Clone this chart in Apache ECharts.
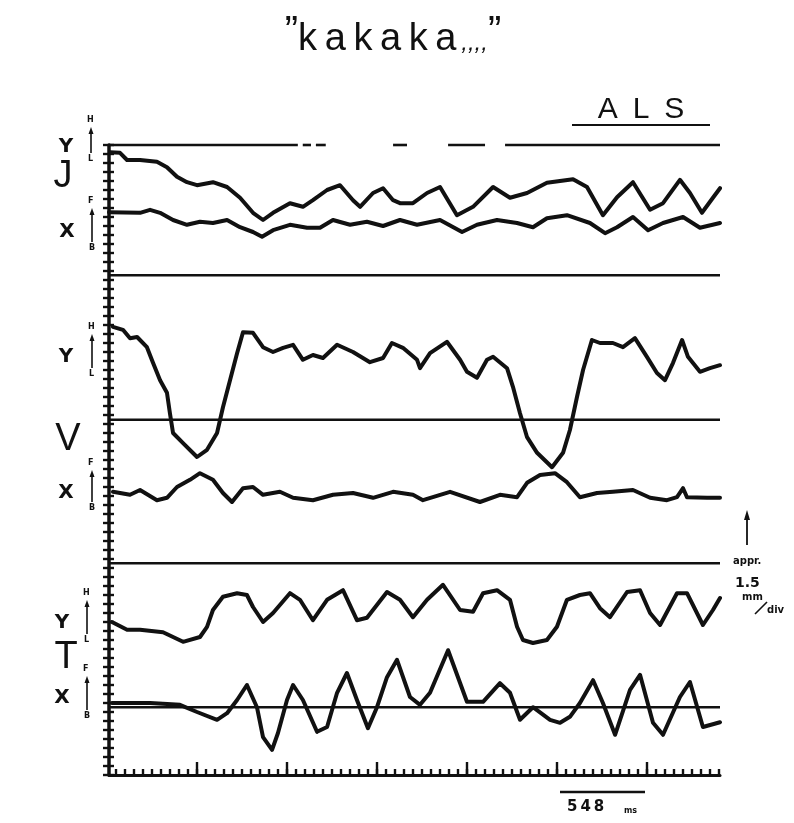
<!DOCTYPE html>
<html>
<head>
<meta charset="utf-8">
<script src="https://cdn.jsdelivr.net/npm/echarts@6/dist/echarts.min.js"></script>
<style>
html, body { margin: 0; padding: 0; background: #fff; }
#chart-container { width: 794px; height: 823px; }
</style>
</head>
<body>
<div id="chart-container"></div>
<script>
// time in ms, displacement in mm (1 div = 1.5 mm)
var jawY = [[6,103.8],[67,103.7],[110,102.5],[189,102.5],[292,102.2],[353,101.3],[414,99.7],[475,98.8],[536,98.3],[633,98.8],[719,98],[798,96.2],[877,93.7],[938,92.5],[999,93.7],[1102,95.3],[1181,94.7],[1242,95.8],[1328,97.5],[1407,98.3],[1486,95.8],[1529,94.7],[1608,97],[1669,97.8],[1730,95.8],[1772,95.3],[1851,95.3],[1937,97],[2016,98],[2119,93.3],[2217,94.7],[2339,98],[2442,96.2],[2546,97],[2667,98.7],[2826,99.3],[2911,98],[3008,93.3],[3094,96.3],[3191,98.8],[3295,94.2],[3374,95.3],[3477,99.2],[3538,97],[3611,93.7],[3678,96.2],[3721,97.8]];
var jawX = [[0,93.8],[189,93.7],[250,94.2],[311,93.7],[390,92.5],[475,91.7],[554,92.2],[633,92],[719,92.5],[798,91.3],[877,90.5],[932,89.7],[999,90.8],[1102,91.7],[1206,91.2],[1285,91.2],[1364,92.5],[1468,91.7],[1571,92.2],[1669,91.5],[1772,92.5],[1876,91.7],[2016,92.5],[2150,90.5],[2241,91.7],[2363,92.5],[2485,92],[2582,91.3],[2667,92.8],[2789,93.3],[2929,92],[3021,90.3],[3094,91.3],[3191,93],[3283,90.8],[3374,92],[3496,93],[3599,91.2],[3721,92]];
var veluY = [[24,74.7],[85,74.2],[128,72.8],[171,73],[231,71.3],[268,68.7],[311,65.8],[353,63.7],[371,60.3],[390,57],[451,55.3],[536,53],[597,54.2],[658,57],[694,61.3],[737,65.8],[780,70.3],[816,73.8],[877,73.7],[938,71.3],[999,70.5],[1060,71.2],[1121,71.7],[1181,69.2],[1242,70],[1303,69.5],[1389,71.7],[1486,70.5],[1589,68.8],[1669,69.5],[1723,72],[1790,71.2],[1876,69.2],[1894,67.8],[1955,70.3],[2058,72.2],[2138,69.2],[2180,67.2],[2241,66.2],[2302,69.2],[2339,69.7],[2424,67.8],[2460,64.7],[2503,60.3],[2546,56.3],[2607,53.7],[2698,51.3],[2765,53.7],[2807,57.5],[2850,63],[2887,67.5],[2941,72.5],[2990,72],[3069,72],[3130,71.3],[3203,72.8],[3276,69.7],[3337,67],[3386,65.8],[3435,68.7],[3490,72.5],[3526,69.7],[3599,67.2],[3660,67.8],[3721,68.3]];
var veluX = [[24,47.2],[128,46.7],[189,47.5],[292,45.8],[353,46.2],[414,48],[493,49.2],[554,50.3],[633,49.2],[694,47],[749,45.5],[816,47.8],[877,48],[938,46.7],[1041,47.2],[1121,46.2],[1242,45.8],[1364,46.7],[1486,47],[1608,46.2],[1730,47.2],[1851,46.7],[1912,45.8],[2077,47.2],[2259,45.5],[2381,46.7],[2485,46.3],[2546,48.7],[2625,50],[2716,50.3],[2789,48.8],[2868,46.3],[2972,47],[3069,47.2],[3191,47.5],[3295,46.2],[3398,45.8],[3459,46.3],[3496,47.8],[3520,46.3],[3642,46.2],[3721,46.2]];
var tongueY = [[18,25.5],[110,24.2],[189,24.2],[329,23.8],[390,23],[451,22.2],[554,23],[597,24.7],[633,27.5],[694,29.7],[780,30.3],[840,30],[877,28],[938,25.5],[999,27],[1102,30.3],[1163,29.2],[1242,25.8],[1328,29.2],[1425,30.8],[1510,25.8],[1571,26.2],[1693,30.5],[1772,29.2],[1851,26.3],[1937,29.2],[2034,31.7],[2138,27.5],[2217,27.2],[2278,30.3],[2363,30.8],[2442,29.2],[2485,24.7],[2521,22.5],[2582,22],[2667,22.5],[2728,24.7],[2789,29.2],[2868,30],[2929,30.3],[2990,27.8],[3051,26.3],[3155,30.5],[3234,30.8],[3295,27],[3356,25],[3459,30.3],[3520,30.3],[3617,25],[3678,27.5],[3721,29.5]];
var tongueX = [[18,12],[110,12],[250,12],[432,11.7],[536,10.5],[658,9.2],[719,10.3],[780,12.5],[840,15],[901,11.3],[938,6.3],[993,4.2],[1029,7],[1084,12.5],[1121,15],[1181,12.5],[1267,7.2],[1328,8],[1389,13.7],[1449,17],[1510,12.5],[1577,7.8],[1632,11.3],[1693,16.3],[1754,19.2],[1833,13],[1894,11.7],[1955,13.7],[2065,20.8],[2180,12.2],[2278,12.2],[2381,15.3],[2442,13.7],[2503,9.2],[2582,11.3],[2686,9.2],[2747,8.7],[2807,9.7],[2868,12],[2948,15.8],[3008,12],[3082,6.7],[3173,14.2],[3234,16.7],[3313,8.7],[3374,6.7],[3477,13],[3538,15.5],[3617,8],[3721,8.8]];

var xMaxMs = 3721;
var yMaxMm = 105;
var majorTicksMs = [536, 1084, 1632, 2180, 2728, 3276];
var minorStepMs = 54.8;
var baselinesMm = [83.3, 59.2, 35.3, 11.3];
var topBorderMs = [[0, 1150], [1180, 1230], [1260, 1320], [1730, 1815], [2065, 2290], [2412, 3721]];

var minorTicks = [];
for (var t = majorTicksMs[0] - 9 * minorStepMs; t <= xMaxMs; t += minorStepMs) {
  minorTicks.push(+t.toFixed(1));
}

var dom = document.getElementById('chart-container');
var myChart = echarts.init(dom, null, { renderer: 'canvas' });

var ink = '#111';
var traceStyle = { color: ink, width: 4, join: 'round', cap: 'round' };

function trace(data) {
  return { type: 'line', data: data, showSymbol: false, silent: true, animation: false,
    lineStyle: traceStyle, z: 5 };
}
function hline(y, x0, x1, w) {
  return { type: 'line', data: [[x0, y], [x1, y]], showSymbol: false, silent: true, animation: false,
    clip: false, lineStyle: { color: ink, width: w } };
}

var series = [trace(jawY), trace(jawX), trace(veluY), trace(veluX), trace(tongueY), trace(tongueX)];
baselinesMm.forEach(function (y) { series.push(hline(y, 0, xMaxMs, 2.6)); });
topBorderMs.forEach(function (s) { series.push(hline(yMaxMm, s[0], s[1], 2.6)); });

// small H/L or F/B direction arrows
function dirArrow(x, yTop, yBot, top, bot) {
  return [
    { type: 'text', left: x - 4, top: yTop - 11, style: { text: top, font: 'bold 8px "DejaVu Sans"', fill: ink } },
    { type: 'line', shape: { x1: x, y1: yTop + 4, x2: x, y2: yBot - 4 }, style: { stroke: ink, lineWidth: 1.6 } },
    { type: 'polygon', shape: { points: [[x - 2.5, yTop + 7], [x + 2.5, yTop + 7], [x, yTop]] }, style: { fill: ink } },
    { type: 'text', left: x - 3, top: yBot - 2, style: { text: bot, font: 'bold 8px "DejaVu Sans"', fill: ink } }
  ];
}
function letter(txt, x, y, font) {
  return { type: 'text', x: x, y: y, style: { text: txt, font: font, fill: ink, align: 'center', verticalAlign: 'middle' } };
}

var big = '300 38px "Liberation Sans"';
var mid = 'bold 20px "DejaVu Sans"';
var graphics = [
  { type: 'text', x: 393, y: 40, style: {
      text: '{q|\u201D}{t|k\u2009a\u2009k\u2009a\u2009k\u2009a}{c|\u2009,,,,}{q|\u201D}',
      align: 'center', verticalAlign: 'middle',
      rich: {
        q: { font: '40px "Liberation Sans"', fill: ink, verticalAlign: 'top', padding: [0, 0, 14, 0] },
        t: { font: '38px "Liberation Sans"', fill: ink },
        c: { font: 'italic 24px "Liberation Sans"', fill: ink, padding: [6, 0, 0, 0] }
      } } },
  { type: 'text', x: 641, y: 110, style: { text: 'A\u2002L\u2002S', font: '30px "Liberation Sans"', fill: ink, align: 'center', verticalAlign: 'middle' } },
  { type: 'line', shape: { x1: 572, y1: 125, x2: 710, y2: 125 }, style: { stroke: ink, lineWidth: 2 } },
  letter('J', 63, 177, big), letter('V', 68, 440, big), letter('T', 66, 658, big),
  letter('Y', 66, 147, mid), letter('X', 67, 232, mid),
  letter('Y', 66, 357, mid), letter('X', 66, 493, mid),
  letter('Y', 62, 623, mid), letter('X', 62, 698, mid),
  // right-hand scale note
  { type: 'line', shape: { x1: 747, y1: 545, x2: 747, y2: 516 }, style: { stroke: ink, lineWidth: 1.8 } },
  { type: 'polygon', shape: { points: [[744, 520], [750, 520], [747, 510]] }, style: { fill: ink } },
  { type: 'text', x: 733, y: 556, style: { text: 'appr.', font: 'bold 10px "DejaVu Sans"', fill: ink } },
  { type: 'text', x: 735, y: 576, style: { text: '1.5', font: 'bold 14px "DejaVu Sans"', fill: ink } },
  { type: 'text', x: 742, y: 592, style: { text: 'mm', font: 'bold 10px "DejaVu Sans"', fill: ink } },
  { type: 'line', shape: { x1: 755, y1: 614, x2: 767, y2: 602 }, style: { stroke: ink, lineWidth: 1.6 } },
  { type: 'text', x: 767, y: 605, style: { text: 'div', font: 'bold 10px "DejaVu Sans"', fill: ink } },
  // time scale bar
  { type: 'line', shape: { x1: 560, y1: 792, x2: 645, y2: 792 }, style: { stroke: ink, lineWidth: 2.6 } },
  { type: 'text', x: 567, y: 800, style: { text: '5\u20094\u20098', font: 'bold 15px "DejaVu Sans"', fill: ink } },
  { type: 'text', x: 624, y: 807, style: { text: 'ms', font: 'bold 8px "DejaVu Sans"', fill: ink } }
];
graphics = graphics
  .concat(dirArrow(91, 127, 157, 'H', 'L'))
  .concat(dirArrow(92, 208, 246, 'F', 'B'))
  .concat(dirArrow(92, 334, 372, 'H', 'L'))
  .concat(dirArrow(92, 470, 506, 'F', 'B'))
  .concat(dirArrow(87, 600, 638, 'H', 'L'))
  .concat(dirArrow(87, 676, 714, 'F', 'B'));

var option = {
  backgroundColor: '#fff',
  animation: false,
  grid: { left: 109, right: 74, top: 145, bottom: 48 },
  xAxis: [
    { type: 'value', min: 0, max: xMaxMs,
      axisLine: { show: true, onZero: false, lineStyle: { color: ink, width: 3 } },
      axisTick: { show: true, inside: true, length: 6, customValues: minorTicks, lineStyle: { color: ink, width: 2.4 } },
      axisLabel: { show: false }, splitLine: { show: false } },
    { type: 'value', min: 0, max: xMaxMs, position: 'bottom',
      axisLine: { show: false },
      axisTick: { show: true, inside: true, length: 13, customValues: majorTicksMs, lineStyle: { color: ink, width: 2.4 } },
      axisLabel: { show: false }, splitLine: { show: false } }
  ],
  yAxis: [
    { type: 'value', min: 0, max: yMaxMm, interval: 1.5,
      axisLine: { show: true, onZero: false, lineStyle: { color: ink, width: 3.5 } },
      axisTick: { show: true, inside: true, length: 5, lineStyle: { color: ink, width: 2.4 } },
      axisLabel: { show: false }, splitLine: { show: false } },
    { type: 'value', min: 0, max: yMaxMm, interval: 1.5, position: 'right',
      axisLine: { show: false },
      axisTick: { show: true, inside: true, length: 6, lineStyle: { color: ink, width: 2.4 } },
      axisLabel: { show: false }, splitLine: { show: false } }
  ],
  series: series,
  graphic: graphics
};

myChart.setOption(option);
window.addEventListener('resize', myChart.resize);
</script>
</body>
</html>
